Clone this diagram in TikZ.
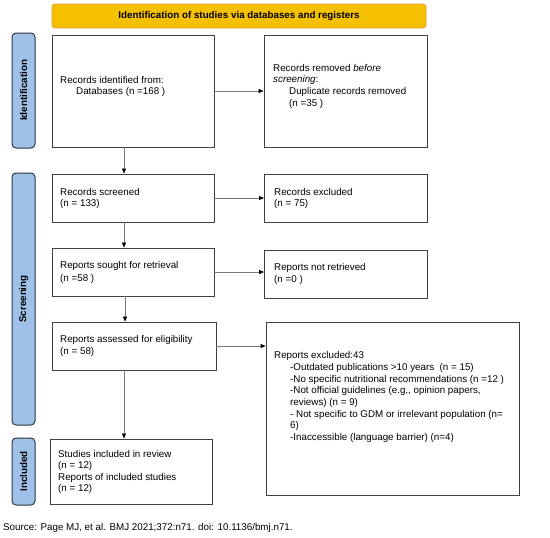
\documentclass[tikz,border=0pt]{standalone}
\usepackage{fontspec}
\setmainfont{Liberation Sans}
\usetikzlibrary{arrows.meta,positioning,calc}
\definecolor{bannerfill}{HTML}{F5C000}
\definecolor{bannerline}{HTML}{E8A030}
\definecolor{barfill}{HTML}{9FC1E8}
\definecolor{barline}{HTML}{2E3440}
\definecolor{arrline}{HTML}{777777}
\begin{document}
\begin{tikzpicture}[x=1pt,y=-1pt,
  box/.style={draw=black!75,line width=0.9pt,fill=white,inner sep=0pt},
  txt/.style={anchor=west,inner sep=0pt,font=\fontsize{9.8}{11.7}\selectfont},
  sidebar/.style={draw=barline,line width=1pt,fill=barfill,rounded corners=4pt,inner sep=0pt},
  sidetxt/.style={rotate=90,font=\fontsize{9.8}{11.7}\selectfont\bfseries,inner sep=0pt},
  arr/.style={draw=arrline,line width=0.7pt,-{Triangle[length=5pt,width=4pt,fill=black,color=black]}}
]
\useasboundingbox (0,0) rectangle (550,538);
\fill[white] (0,0) rectangle (550,538);

% banner
\node[draw=bannerline,line width=0.8pt,fill=bannerfill,rounded corners=3pt,
  minimum width=374pt,minimum height=24pt,inner sep=0pt,
  font=\fontsize{9.8}{11.7}\selectfont\bfseries] (banner) at (239,16)
  {Identification of studies via databases and registers};

% side bars
\node[sidebar,minimum width=23pt,minimum height=115pt] (barI) at (23.5,90.5) {};
\node[sidetxt] (barIt) at (barI.center) {Identification};
\node[sidebar,minimum width=23pt,minimum height=252pt] (barS) at (23.5,299) {};
\node[sidetxt] (barSt) at (barS.center) {Screening};
\node[sidebar,minimum width=23pt,minimum height=67pt] (barC) at (23.5,471.5) {};
\node[sidetxt] (barCt) at (barC.center) {Included};

% boxes
\node[box,minimum width=162pt,minimum height=112pt] (ident) at (133,91) {};
\node[box,minimum width=163pt,minimum height=112pt] (removed) at (345.5,91) {};
\node[box,minimum width=162pt,minimum height=48pt] (screened) at (133,198) {};
\node[box,minimum width=163pt,minimum height=48pt] (excl) at (346,198) {};
\node[box,minimum width=162pt,minimum height=48pt] (sought) at (133,272) {};
\node[box,minimum width=163pt,minimum height=48pt] (notret) at (346,274) {};
\node[box,minimum width=164pt,minimum height=48pt] (assess) at (134,346) {};
\node[box,minimum width=253pt,minimum height=173pt] (repexcl) at (392.5,408.5) {};
\node[box,minimum width=162pt,minimum height=65pt] (incl) at (131,471.5) {};

% texts
\node[txt] (t1a) at (60,80) {Records identified from:};
\node[txt] (t1b) at (76,92) {Databases (n =168 )};

\node[txt] (t2a) at (273,68) {Records removed \textit{before}};
\node[txt] (t2b) at (273,80) {\textit{screening}:};
\node[txt] (t2c) at (289,92) {Duplicate records removed};
\node[txt] (t2d) at (289,104) {(n =35 )};

\node[txt] (t3a) at (60,192) {Records screened};
\node[txt] (t3b) at (60,204) {(n = 133)};
\node[txt] (t4a) at (274,192) {Records excluded};
\node[txt] (t4b) at (274,204) {(n = 75)};

\node[txt] (t5a) at (60,266) {Reports sought for retrieval};
\node[txt] (t5b) at (60,279) {(n =58 )};
\node[txt] (t6a) at (274,268) {Reports not retrieved};
\node[txt] (t6b) at (274,280) {(n =0 )};

\node[txt] (t7a) at (60,340) {Reports assessed for eligibility};
\node[txt] (t7b) at (60,352) {(n = 58)};

\node[txt] (t8a) at (274,356) {Reports excluded:43};
\node[txt] (t8b) at (290,368) {-Outdated publications >10 years\ \ (n = 15)};
\node[txt] (t8c) at (290,379.5) {-No specific nutritional recommendations (n =12 )};
\node[txt] (t8d) at (290,391) {-Not official guidelines (e.g., opinion papers,};
\node[txt] (t8e) at (290,403) {reviews) (n = 9)};
\node[txt] (t8f) at (290,414.5) {- Not specific to GDM or irrelevant population (n=};
\node[txt] (t8g) at (290,426) {6)};
\node[txt] (t8h) at (290,438) {-Inaccessible (language barrier) (n=4)};

\node[txt] (t9a) at (58,454) {Studies included in review};
\node[txt] (t9b) at (58,466) {(n = 12)};
\node[txt] (t9c) at (58,477.5) {Reports of included studies};
\node[txt] (t9d) at (58,489) {(n = 12)};

\node[txt] (src) at (3,528) {Source: Page MJ, et al. BMJ 2021;372:n71. doi: 10.1136/bmj.n71.};

% connectors
\draw[arr] (ident.east) -- (removed.west);
\draw[arr] (screened.east) -- (excl.west);
\draw[arr] (sought.east) -- (sought.east -| notret.west);
\draw[arr] (assess.east) -- (assess.east -| repexcl.west);
\draw[arr] ([xshift=-9pt]ident.south) -- ([xshift=-9pt]ident.south |- screened.north);
\draw[arr] ([xshift=-9pt]screened.south) -- ([xshift=-9pt]screened.south |- sought.north);
\draw[arr] ([xshift=-8pt]sought.south) -- ([xshift=-8pt]sought.south |- assess.north);
\draw[arr] ([xshift=-10pt]assess.south) -- ([xshift=-10pt]assess.south |- incl.north);
\end{tikzpicture}
\end{document}
